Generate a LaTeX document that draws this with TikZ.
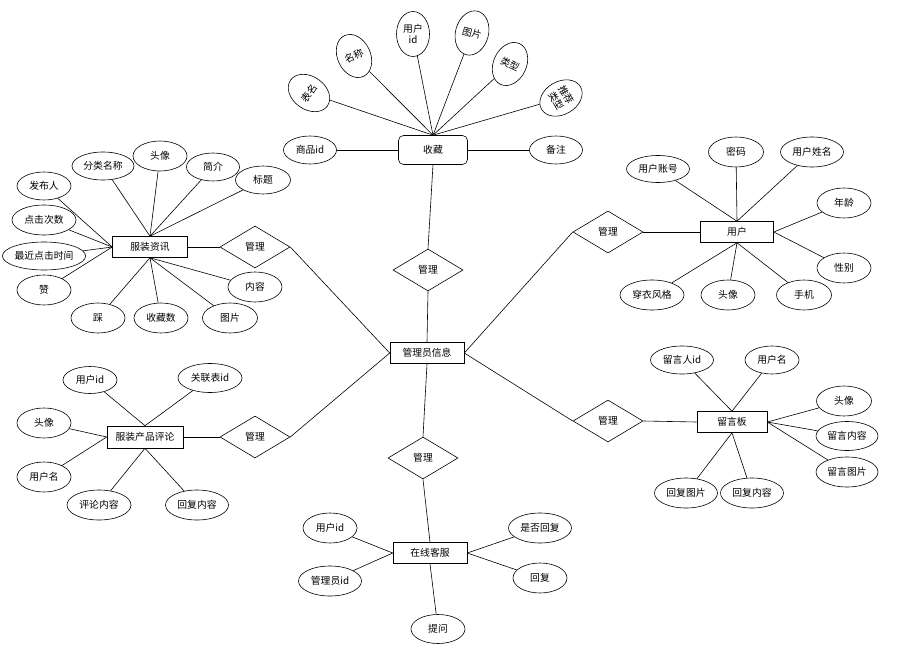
\documentclass[tikz,border=0pt]{standalone}
\usepackage{fontspec}
\newfontfamily\cjk{Noto Sans CJK SC}
\usetikzlibrary{shapes.geometric}
\begin{document}
\begin{tikzpicture}[x=1pt,y=-1pt,line width=0.6pt,
  every node/.style={font=\cjk\fontsize{9.8}{11.5}\selectfont, inner sep=0pt},
  ent/.style={draw, rectangle, minimum width=74pt, minimum height=21pt},
  attr/.style={draw, ellipse, minimum width=54pt, minimum height=30pt},
  rel/.style={draw, diamond, minimum width=70pt, minimum height=42pt},
  vattr/.style={draw, ellipse, minimum width=33pt, minimum height=45pt, align=center}]
\useasboundingbox (0,0) rectangle (918,658);

% centre
\node[ent] (admin) at (427,353) {管理员信息};

% 收藏
\node[ent, rounded corners=5pt, minimum width=69pt, minimum height=29pt] (fav) at (433,150) {收藏};
\node[rel] (r1) at (428,270) {管理};
\draw (fav.south) -- (r1.north);
\draw (r1.south) -- (admin.north);
\node[attr, minimum width=53pt, minimum height=28pt] (f1) at (310,150) {商品id};
\node[attr, minimum width=53pt, minimum height=28pt] (f2) at (556,150) {备注};
\node[vattr, rotate=55] (f3) at (309,93) {表名};
\node[vattr, rotate=25] (f4) at (354,56) {名称};
\node[vattr] (f5) at (413,34) {用户\\id};
\node[vattr, rotate=-15] (f6) at (472,33) {图片};
\node[vattr, rotate=-25] (f7) at (510,64) {类型};
\node[vattr, rotate=-60] (f8) at (561,98) {推荐\\类型};
\draw (f1) -- (fav.west);
\draw (f2) -- (fav.east);
\foreach \a in {f3,f4,f5,f6,f7,f8} \draw (\a) -- (fav.north);

% 服装资讯
\node[ent, minimum width=75pt] (news) at (150,247) {服装资讯};
\node[rel] (r2) at (255,247) {管理};
\draw (news.east) -- (r2.west);
\draw (r2.east) -- (admin.west);
\node[attr, minimum height=28pt] (n1) at (44,186) {发布人};
\node[attr, minimum width=64pt] (n2) at (44,220) {点击次数};
\node[attr, minimum width=82pt, minimum height=28pt] (n3) at (44,256) {最近点击时间};
\node[attr] (n4) at (44,290) {赞};
\node[attr, minimum width=62pt, minimum height=28pt] (n5) at (103,166) {分类名称};
\node[attr] (n6) at (160,156) {头像};
\node[attr, minimum width=53pt, minimum height=28pt] (n7) at (213,167) {简介};
\node[attr, minimum width=55pt, minimum height=28pt] (n8) at (263,180) {标题};
\node[attr] (n9) at (255,287) {内容};
\node[attr, minimum width=55pt] (n10) at (230,318) {图片};
\node[attr] (n11) at (161,318) {收藏数};
\node[attr] (n12) at (98,318) {踩};
\foreach \a in {n1,n2,n3,n4} \draw (\a) -- (news.west);
\foreach \a in {n5,n6,n7,n8} \draw (\a) -- (news.north);
\foreach \a in {n9,n10,n11,n12} \draw (\a) -- (news.south);

% 用户
\node[ent, minimum width=73pt] (user) at (737,232) {用户};
\node[rel] (r3) at (608,232) {管理};
\draw (r3.east) -- (user.west);
\draw (r3.west) -- (admin.east);
\node[attr, minimum width=63pt, minimum height=27pt] (u1) at (658,169) {用户账号};
\node[attr, minimum width=55pt] (u2) at (736,152) {密码};
\node[attr, minimum width=63pt] (u3) at (812,152) {用户姓名};
\node[attr] (u4) at (844,203) {年龄};
\node[attr] (u5) at (844,268) {性别};
\node[attr, minimum width=64pt] (u6) at (652,295) {穿衣风格};
\node[attr] (u7) at (728,295) {头像};
\node[attr, minimum width=55pt] (u8) at (804,295) {手机};
\foreach \a in {u1,u2,u3} \draw (\a) -- (user.north);
\foreach \a in {u4,u5} \draw (\a) -- (user.east);
\foreach \a in {u6,u7,u8} \draw (\a) -- (user.south);

% 服装产品评论
\node[ent, minimum width=76pt, minimum height=22pt] (cmt) at (145,437) {服装产品评论};
\node[rel] (r4) at (255,437) {管理};
\draw (cmt.east) -- (r4.west);
\draw (r4.east) -- (admin.west);
\node[attr, minimum height=27pt] (c1) at (90,380) {用户id};
\node[attr, minimum width=64pt, minimum height=29pt] (c2) at (210,378) {关联表id};
\node[attr] (c3) at (44,423) {头像};
\node[attr] (c4) at (44,477) {用户名};
\node[attr, minimum width=64pt] (c5) at (99,505) {评论内容};
\node[attr, minimum width=63pt] (c6) at (197,505) {回复内容};
\foreach \a in {c1,c2} \draw (\a) -- (cmt.north);
\foreach \a in {c3,c4} \draw (\a) -- (cmt.west);
\foreach \a in {c5,c6} \draw (\a) -- (cmt.south);

% 在线客服
\node[rel] (r5) at (423,458) {管理};
\node[ent] (svc) at (430,553) {在线客服};
\draw (admin.south) -- (r5.north);
\draw (r5.south) -- (svc.north);
\node[attr] (s1) at (330,528) {用户id};
\node[attr, minimum width=63pt] (s2) at (330,581) {管理员id};
\node[attr, minimum height=29pt] (s3) at (438,629) {提问};
\node[attr, minimum width=63pt] (s4) at (540,528) {是否回复};
\node[attr] (s5) at (540,578) {回复};
\foreach \a in {s1,s2} \draw (\a) -- (svc.west);
\draw (s3) -- (svc.south);
\foreach \a in {s4,s5} \draw (\a) -- (svc.east);

% 留言板
\node[ent, minimum width=70pt] (board) at (732,422) {留言板};
\node[rel] (r6) at (608,421) {管理};
\draw (r6.east) -- (board.west);
\draw (r6.west) -- (admin.east);
\node[attr, minimum width=63pt, minimum height=28pt] (b1) at (682,360) {留言人id};
\node[attr, minimum height=28pt] (b2) at (772,360) {用户名};
\node[attr, minimum width=55pt] (b3) at (844,401) {头像};
\node[attr, minimum width=62pt, minimum height=29pt] (b4) at (847,436) {留言内容};
\node[attr, minimum width=62pt] (b5) at (847,472) {留言图片};
\node[attr, minimum width=63pt] (b6) at (686,493) {回复图片};
\node[attr, minimum width=63pt] (b7) at (752,493) {回复内容};
\foreach \a in {b1,b2} \draw (\a) -- (board.north);
\foreach \a in {b3,b4,b5} \draw (\a) -- (board.east);
\foreach \a in {b6,b7} \draw (\a) -- (board.south);
\end{tikzpicture}
\end{document}
